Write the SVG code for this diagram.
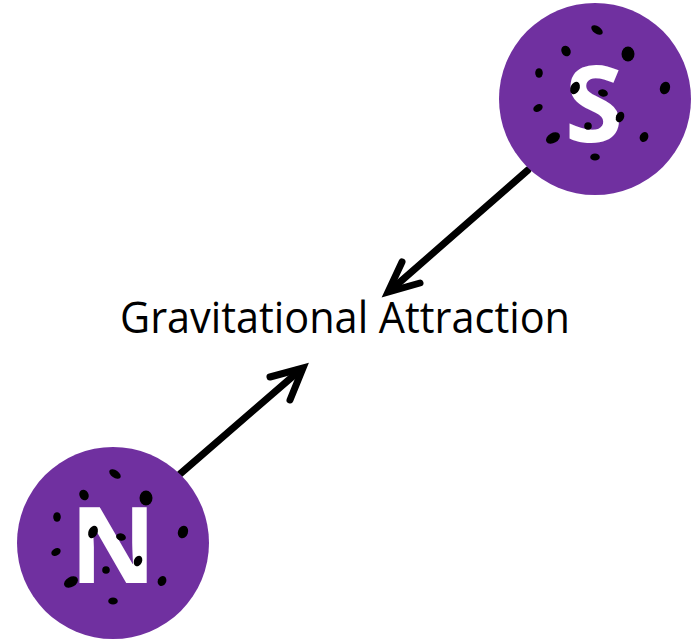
<svg xmlns="http://www.w3.org/2000/svg" xmlns:xlink="http://www.w3.org/1999/xlink" width="695" height="639" viewBox="0 0 695 639">
<style>
.planet{fill:#7030A0}
.letter{font-family:"Open Sans","Liberation Sans",sans-serif;font-weight:700;font-size:106px;fill:#FFFFFF;text-anchor:middle}
.label{font-family:"Open Sans","Liberation Sans",sans-serif;font-size:43px;fill:#000000}
.conn{fill:none;stroke:#000000;stroke-width:7;stroke-linecap:round;stroke-linejoin:miter}
.dot{fill:#000000}
</style>
<defs>
<g id="dots">
<ellipse class="dot" cx="2" cy="-69" rx="6.5" ry="3.8" transform="rotate(35 2 -69)"/>
<ellipse class="dot" cx="-29" cy="-48" rx="4.5" ry="5.5" transform="rotate(-30 -29 -48)"/>
<ellipse class="dot" cx="33" cy="-45" rx="6.5" ry="7.5"/>
<ellipse class="dot" cx="-56" cy="-26" rx="3.8" ry="4.8"/>
<ellipse class="dot" cx="-20" cy="-11" rx="4.5" ry="6.5" transform="rotate(25 -20 -11)"/>
<ellipse class="dot" cx="8" cy="-6" rx="5" ry="3.6" transform="rotate(15 8 -6)"/>
<ellipse class="dot" cx="70" cy="-11" rx="5" ry="6.5" transform="rotate(20 70 -11)"/>
<ellipse class="dot" cx="-57" cy="9" rx="5" ry="3.6" transform="rotate(-30 -57 9)"/>
<ellipse class="dot" cx="25" cy="18" rx="4" ry="5.5" transform="rotate(25 25 18)"/>
<ellipse class="dot" cx="-7" cy="27" rx="3.8" ry="3.8"/>
<ellipse class="dot" cx="-42" cy="39" rx="7.5" ry="5" transform="rotate(-30 -42 39)"/>
<ellipse class="dot" cx="49" cy="38" rx="4.2" ry="5.2" transform="rotate(25 49 38)"/>
<ellipse class="dot" cx="0" cy="58" rx="4.8" ry="3.6"/>
</g>
</defs>
<g id="connectors">
<line class="conn" x1="528" y1="170" x2="392" y2="289"/>
<path class="conn" d="M402,262 L388,292 L420,283"/>
<line class="conn" x1="180" y1="474" x2="299" y2="371"/>
<path class="conn" d="M270,377 L303,368 L290,400"/>
</g>
<g id="node-s">
<circle class="planet" cx="595" cy="99" r="96"/>
<text class="letter" x="594" y="142">S</text>
<use xlink:href="#dots" href="#dots" x="595" y="99"/>
</g>
<g id="node-n">
<circle class="planet" cx="113" cy="543" r="96"/>
<text class="letter" x="113" y="583">N</text>
<use xlink:href="#dots" href="#dots" x="113" y="543"/>
</g>
<g id="label">
<text class="label" x="120" y="333" textLength="450" lengthAdjust="spacingAndGlyphs">Gravitational Attraction</text>
</g>
</svg>
